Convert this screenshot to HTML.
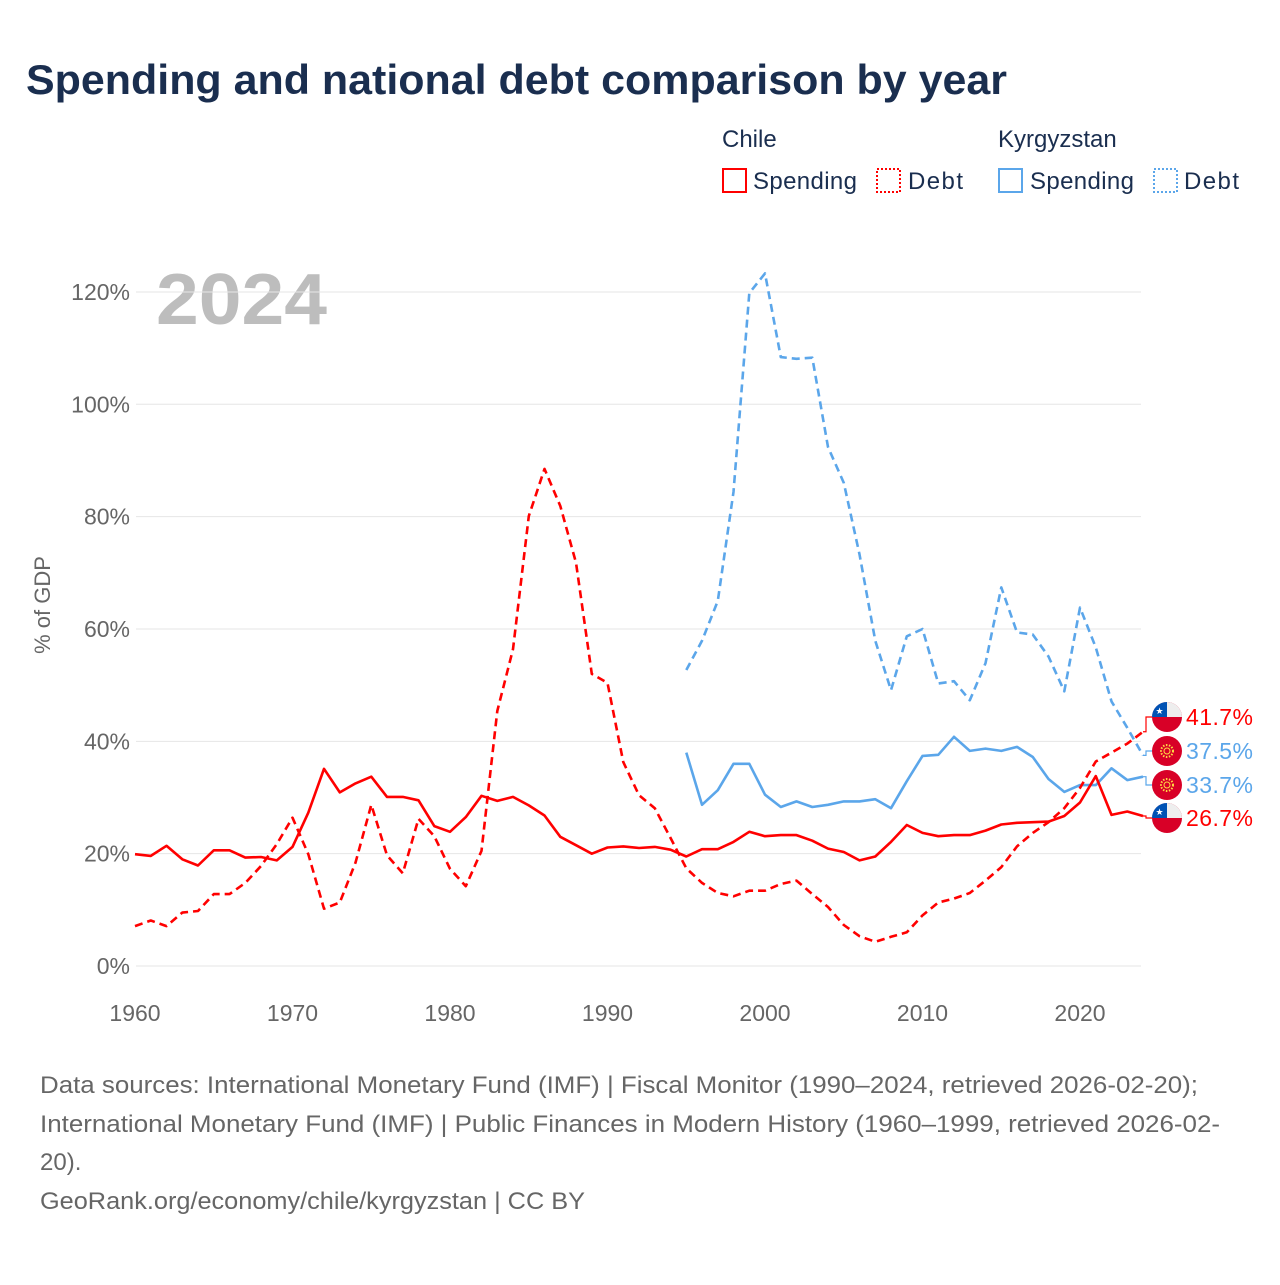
<!DOCTYPE html>
<html><head><meta charset="utf-8"><style>
body{margin:0;background:#fff;width:1280px;height:1280px;overflow:hidden;font-family:"Liberation Sans",sans-serif}
</style></head><body>
<svg id="chart" width="1280" height="1280" xmlns="http://www.w3.org/2000/svg" font-family="Liberation Sans, sans-serif">
<text x="26" y="94" font-size="42" font-weight="bold" fill="#1a2e4f" textLength="981" lengthAdjust="spacingAndGlyphs">Spending and national debt comparison by year</text>
<g font-size="24" fill="#1a2e4f">
<text x="722" y="147">Chile</text>
<text x="998" y="147">Kyrgyzstan</text>
<g><rect x="723" y="169" width="23" height="23" fill="none" stroke="#f00" stroke-width="2"/><text x="753" y="189" textLength="104">Spending</text></g>
<g><rect x="877" y="169" width="23" height="23" fill="none" stroke="#f00" stroke-width="2" stroke-dasharray="2,2"/><text x="908" y="189" textLength="55">Debt</text></g>
<g><rect x="999" y="169" width="23" height="23" fill="none" stroke="#5ba6ea" stroke-width="2"/><text x="1030" y="189" textLength="104">Spending</text></g>
<g><rect x="1154" y="169" width="23" height="23" fill="none" stroke="#5ba6ea" stroke-width="2" stroke-dasharray="2,2"/><text x="1184" y="189" textLength="55">Debt</text></g>
</g>
<text x="156" y="324" font-size="72" font-weight="bold" fill="#bdbdbd" textLength="171" lengthAdjust="spacingAndGlyphs">2024</text>
<text transform="translate(50,605) rotate(-90)" text-anchor="middle" font-size="22" fill="#666">% of GDP</text>
<g id="grid"></g><g id="series"></g><g id="labels"></g>
<g font-size="24" fill="#666">
<text x="40" y="1093" textLength="1158" lengthAdjust="spacingAndGlyphs">Data sources: International Monetary Fund (IMF) | Fiscal Monitor (1990–2024, retrieved 2026-02-20);</text>
<text x="40" y="1132" textLength="1180" lengthAdjust="spacingAndGlyphs">International Monetary Fund (IMF) | Public Finances in Modern History (1960–1999, retrieved 2026-02-</text>
<text x="40" y="1170">20).</text>
<text x="40" y="1209" textLength="545" lengthAdjust="spacingAndGlyphs">GeoRank.org/economy/chile/kyrgyzstan | CC BY</text>
</g>
</svg>
<script>
const yTicks=[0,20,40,60,80,100,120];
const xTicks=[1960,1970,1980,1990,2000,2010,2020];
const chileStart=1960;
const chileSpending=[19.9,19.6,21.4,19.0,17.9,20.6,20.6,19.3,19.4,18.8,21.2,27.3,35.1,30.9,32.5,33.7,30.1,30.1,29.5,24.9,23.9,26.5,30.3,29.4,30.1,28.6,26.8,23.0,21.5,20.0,21.1,21.3,21.0,21.2,20.7,19.5,20.8,20.8,22.1,23.9,23.1,23.3,23.3,22.3,20.9,20.3,18.8,19.5,22.1,25.1,23.7,23.1,23.3,23.3,24.1,25.2,25.5,25.6,25.7,26.7,29.1,33.8,26.9,27.5,26.7];
const chileDebt=[7.1,8.1,7.1,9.5,9.8,12.8,12.8,14.8,17.8,21.7,26.4,19.9,10.2,11.3,18.4,28.7,19.7,16.5,26.2,23.1,17.3,14.2,20.5,45.4,56.4,80.1,88.5,81.9,71.8,52.0,50.4,36.3,30.4,28.1,22.8,17.4,14.8,13.0,12.4,13.4,13.4,14.6,15.2,12.8,10.5,7.3,5.3,4.3,5.2,6.0,9.0,11.3,12.0,13.0,15.2,17.6,21.3,23.7,25.6,28.1,31.7,36.4,38.0,39.6,41.7];
const kgzStart=1995;
const kgzSpending=[38.0,28.7,31.3,36.0,36.0,30.5,28.3,29.3,28.3,28.7,29.3,29.3,29.7,28.1,32.9,37.4,37.6,40.8,38.3,38.7,38.3,39.0,37.2,33.3,31.0,32.2,32.2,35.2,33.1,33.7];
const kgzDebt=[52.7,57.9,65.0,84.4,119.8,123.3,108.4,108.1,108.3,92.4,86.0,73.3,57.9,49.1,58.7,60.0,50.3,50.7,47.3,53.9,67.4,59.4,59.0,55.1,48.9,63.8,56.7,47.1,42.4,37.5];
const NS="http://www.w3.org/2000/svg";
const X=y=>135+(y-1960)*15.75;
const Y=v=>966-v*5.617;
function mk(tag,attrs,parent){const e=document.createElementNS(NS,tag);for(const k in attrs)e.setAttribute(k,attrs[k]);parent.appendChild(e);return e;}
const grid=document.getElementById('grid');
yTicks.forEach(t=>{
  const l=mk('line',{x1:136,x2:1141,y1:Y(t),y2:Y(t),stroke:'#e6e6e6','stroke-width':1},grid);
  
  
  const tx=mk('text',{x:130,y:Y(t)+8,'text-anchor':'end','font-size':23,fill:'#666'},grid);
  tx.textContent=t+'%';
  
  
});
xTicks.forEach(t=>{
  const tx=mk('text',{x:X(t),y:1021,'text-anchor':'middle','font-size':23,fill:'#666'},grid);
  tx.textContent=t;
  
  
});
const ser=document.getElementById('series');
function line(arr,start,color,dash,name){
  const d=arr.map((v,i)=>(i?'L':'M')+X(start+i).toFixed(1)+','+Y(v).toFixed(1)).join('');
  const p=mk('path',{d:d,fill:'none',stroke:color,'stroke-width':2.6,'stroke-linejoin':'round'},ser);
  if(dash)p.setAttribute('stroke-dasharray','8,5');
  
  
}
const RED='#f00',BLUE='#5ba6ea';
line(kgzDebt,kgzStart,BLUE,true,'kyrgyzstan-debt-line');
line(kgzSpending,kgzStart,BLUE,false,'kyrgyzstan-spending-line');
line(chileDebt,chileStart,RED,true,'chile-debt-line');
line(chileSpending,chileStart,RED,false,'chile-spending-line');
const lab=document.getElementById('labels');
const ends=[
 {v:chileDebt[chileDebt.length-1],ly:717,c:RED,f:'cl',n:'chile-debt'},
 {v:kgzDebt[kgzDebt.length-1],ly:751,c:BLUE,f:'kg',n:'kyrgyzstan-debt'},
 {v:kgzSpending[kgzSpending.length-1],ly:785,c:BLUE,f:'kg',n:'kyrgyzstan-spending'},
 {v:chileSpending[chileSpending.length-1],ly:818,c:RED,f:'cl',n:'chile-spending'}];
ends.forEach(e=>{
  const g=mk('g',{},lab);
  
  
  mk('path',{d:`M${X(2024)},${Y(e.v)}L1146,${Y(e.v)}L1146,${e.ly}L1152,${e.ly}`,fill:'none',stroke:e.c,'stroke-width':1.2},g);
  const cx=1167,cy=e.ly,r=15;
  if(e.f==='cl'){
    mk('circle',{cx:cx,cy:cy,r:r,fill:'#d80027'},g);
    mk('path',{d:`M${cx-r},${cy}A${r},${r} 0 0 1 ${cx+r},${cy}Z`,fill:'#eee'},g);
    mk('path',{d:`M${cx-r},${cy}A${r},${r} 0 0 1 ${cx},${cy-r}L${cx},${cy}Z`,fill:'#0052b4'},g);
    mk('text',{x:cx-7.5,y:cy-3,'font-size':9,fill:'#fff','text-anchor':'middle'},g).textContent='★';
  }else{
    mk('circle',{cx:cx,cy:cy,r:r,fill:'#d80027'},g);
    mk('circle',{cx:cx,cy:cy,r:6,fill:'none',stroke:'#ffda44','stroke-width':2,'stroke-dasharray':'1.5,1.5'},g);
    mk('circle',{cx:cx,cy:cy,r:3,fill:'none',stroke:'#ffda44','stroke-width':1},g);
  }
  const t=mk('text',{x:1186,y:e.ly+8,'font-size':23,fill:e.c,textLength:67},g);
  t.textContent=e.v.toFixed(1)+'%';
});
</script>
</body></html>
